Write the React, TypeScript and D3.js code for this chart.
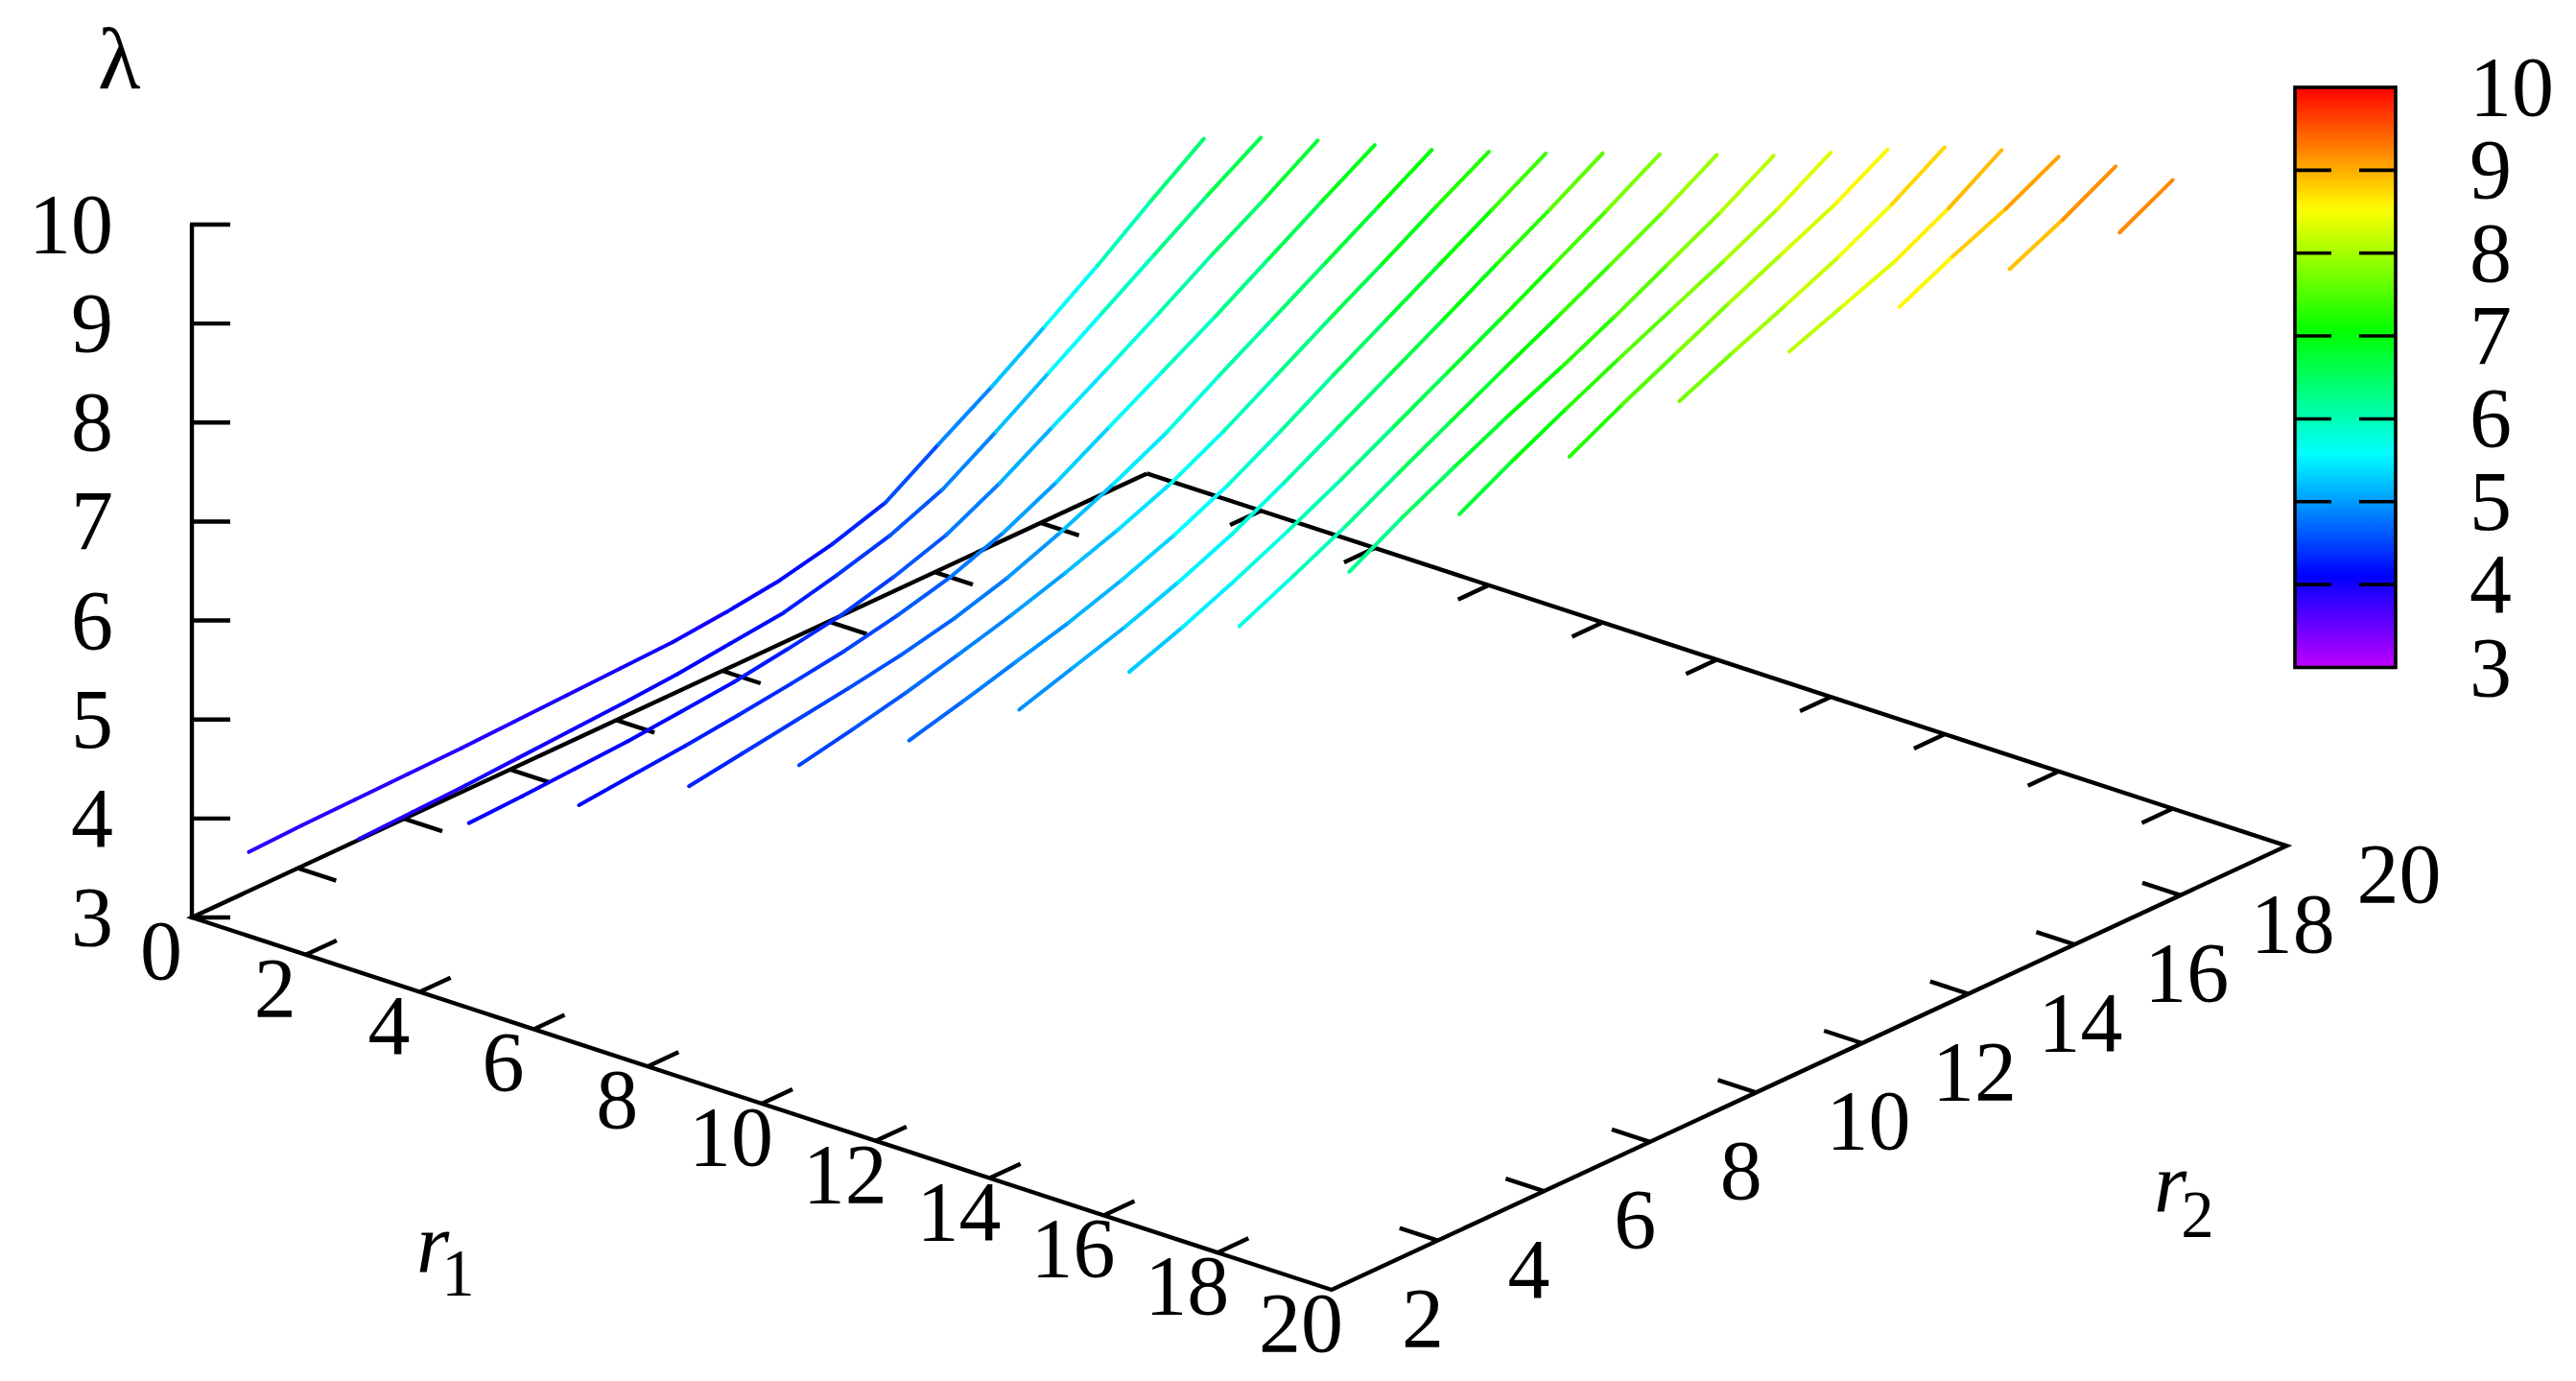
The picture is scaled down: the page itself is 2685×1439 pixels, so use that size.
import React from "react";
import * as d3 from "d3";

// lambda along r2 for each fixed r1; every list starts at r2 = r1 + 1 and ends at r2 = 20
const curveR1_01 = [3.85, 3.87, 3.88, 3.89, 3.9, 3.92, 3.94, 3.96, 3.98, 4.03, 4.1, 4.22, 4.39, 4.73, 5.06, 5.42, 5.79, 6.19, 6.57];
const curveR1_02 = [3.92, 3.94, 3.96, 3.99, 4.02, 4.05, 4.09, 4.15, 4.21, 4.34, 4.49, 4.71, 5.04, 5.39, 5.74, 6.09, 6.44, 6.77];
const curveR1_03 = [4.02, 4.04, 4.07, 4.1, 4.15, 4.2, 4.28, 4.37, 4.51, 4.69, 4.96, 5.28, 5.6, 5.93, 6.27, 6.59, 6.93];
const curveR1_04 = [4.14, 4.19, 4.24, 4.3, 4.37, 4.45, 4.56, 4.7, 4.9, 5.16, 5.47, 5.78, 6.09, 6.42, 6.75, 7.07];
const curveR1_05 = [4.27, 4.35, 4.43, 4.51, 4.6, 4.72, 4.88, 5.09, 5.33, 5.6, 5.93, 6.25, 6.57, 6.89, 7.21];
const curveR1_06 = [4.42, 4.53, 4.65, 4.79, 4.94, 5.11, 5.3, 5.52, 5.8, 6.12, 6.44, 6.75, 7.07, 7.38];
const curveR1_07 = [4.61, 4.75, 4.9, 5.05, 5.23, 5.44, 5.69, 5.99, 6.31, 6.62, 6.93, 7.24, 7.55];
const curveR1_08 = [4.86, 5.03, 5.2, 5.4, 5.63, 5.91, 6.21, 6.51, 6.81, 7.12, 7.42, 7.74];
const curveR1_09 = [5.18, 5.38, 5.61, 5.86, 6.13, 6.42, 6.71, 7.0, 7.3, 7.6, 7.92];
const curveR1_10 = [5.58, 5.83, 6.09, 6.38, 6.66, 6.94, 7.21, 7.49, 7.78, 8.1];
const curveR1_11 = [6.07, 6.37, 6.64, 6.9, 7.14, 7.4, 7.68, 7.96, 8.28];
const curveR1_12 = [6.59, 6.88, 7.15, 7.41, 7.66, 7.91, 8.18, 8.5];
const curveR1_13 = [7.11, 7.39, 7.65, 7.91, 8.16, 8.41, 8.72];
const curveR1_14 = [7.61, 7.85, 8.08, 8.32, 8.6, 8.93];
const curveR1_15 = [8.05, 8.26, 8.47, 8.75, 9.09];
const curveR1_16 = [8.44, 8.7, 8.93, 9.21];
const curveR1_17 = [8.76, 9.01, 9.3];
const curveR1_18 = [9.07, 9.35];
const curves = [curveR1_01, curveR1_02, curveR1_03, curveR1_04, curveR1_05, curveR1_06, curveR1_07, curveR1_08, curveR1_09,
  curveR1_10, curveR1_11, curveR1_12, curveR1_13, curveR1_14, curveR1_15, curveR1_16, curveR1_17, curveR1_18];

const r1Ticks = [0, 2, 4, 6, 8, 10, 12, 14, 16, 18, 20];
const r2Ticks = [2, 4, 6, 8, 10, 12, 14, 16, 18, 20];
const zTicks = [3, 4, 5, 6, 7, 8, 9, 10];

const FONT = "'Liberation Serif', 'Times New Roman', serif";
const FS = 88;

// Parallel projection: r1 and r2 shift the point on screen, lambda lifts it
const r1X = d3.scaleLinear().domain([0, 20]).range([0, 1188]);
const r1Y = d3.scaleLinear().domain([0, 20]).range([0, 388]);
const r2X = d3.scaleLinear().domain([2, 20]).range([0, 995.4]);
const r2Y = d3.scaleLinear().domain([2, 20]).range([0, -462.6]);
const zY = d3.scaleLinear().domain([3, 10]).range([0, -722]);
const ORIGIN = [200, 956];
const project = (r1: number, r2: number, z: number): [number, number] => [
  ORIGIN[0] + r1X(r1) + r2X(r2),
  ORIGIN[1] + r1Y(r1) + r2Y(r2) + zY(z),
];

const hue = d3.scaleLinear().domain([3, 10]).range([285, 0]);
const palette = (v: number) => d3.hsl(hue(v), 1, 0.5).formatHex();

const cbY = d3.scaleLinear().domain([3, 10]).range([695.5, 91]);
const CB_L = 2392;
const CB_R = 2497;
const line = d3.line();

export default function App() {
  const edge = (a: [number, number], b: [number, number]) => line([a, b]) as string;
  const stops = d3.range(3, 10.01, 0.1);
  return (
    <svg width={2685} height={1439} style={{ position: "absolute", left: 0, top: 0, display: "block", background: "#fff" }} fontFamily={FONT} fontSize={FS} fill="#000">
      <defs>
        <linearGradient id="cb" x1="0" y1="1" x2="0" y2="0">
          {stops.map((s) => (
            <stop key={s} offset={(s - 3) / 7} stopColor={palette(s)} />
          ))}
        </linearGradient>
      </defs>

      {/* base frame and z axis */}
      <g stroke="#000" strokeWidth={4.4} fill="none" strokeLinecap="butt">
        <path strokeLinejoin="miter" d={line([project(0, 20, 3), project(0, 2, 3), project(20, 2, 3), project(20, 20, 3), project(0, 20, 3)]) as string} />
        <path d={edge(project(0, 2, 3), project(0, 2, 10))} />
        {zTicks.map((z) => {
          const [x, y] = project(0, 2, z);
          return <path key={z} d={edge([x - 2, y], [x + 40, y])} />;
        })}
        {r1Ticks.slice(1, -1).map((t) => (
          <g key={t}>
            <path d={edge(project(t, 2, 3), project(t, 2.58, 3))} />
            <path d={edge(project(t, 20, 3), project(t, 19.42, 3))} />
          </g>
        ))}
        {r2Ticks.slice(1, -1).map((t) => (
          <g key={t}>
            <path d={edge(project(20, t, 3), project(19.33, t, 3))} />
            <path d={edge(project(0, t, 3), project(0.67, t, 3))} />
          </g>
        ))}
      </g>

      {/* lambda lines: each segment carries one palette colour */}
      <g fill="none" strokeWidth={4} strokeLinecap="round">
        {curves.map((vals, i) => {
          const r1 = i + 1;
          return vals.slice(1).map((v, j) => {
            const a = vals[j];
            const r2 = r1 + 1 + j;
            return <path key={`${r1}-${r2}`} stroke={palette((a + v) / 2)} d={edge(project(r1, r2, a), project(r1, r2 + 1, v))} />;
          });
        })}
      </g>

      {/* tick labels */}
      {zTicks.map((z) => (
        <text key={z} x={118} y={project(0, 2, z)[1] + 29} textAnchor="end">{z}</text>
      ))}
      {r1Ticks.map((t) => {
        const [x, y] = project(t, 2, 3);
        return <text key={t} x={x - 32} y={y + 64} textAnchor="middle">{t}</text>;
      })}
      {r2Ticks.map((t) => {
        const [x, y] = project(20, t, 3);
        return <text key={t} x={x + 73} y={y + 59}>{t}</text>;
      })}

      {/* axis titles */}
      <text x={102} y={92} fontSize={92}>λ</text>
      <text x={434} y={1325} fontStyle="italic">
        r<tspan dx={-8} dy={25} fontSize={69} fontStyle="normal">1</tspan>
      </text>
      <text x={2245} y={1262} fontStyle="italic">
        r<tspan dx={-6} dy={27} fontSize={69} fontStyle="normal">2</tspan>
      </text>

      {/* colour box */}
      <rect x={CB_L} y={cbY(10)} width={CB_R - CB_L} height={cbY(3) - cbY(10)} fill="url(#cb)" stroke="#000" strokeWidth={3.6} />
      <g stroke="#000" strokeWidth={3.6} fill="none">
        {zTicks.slice(1, -1).map((z) => (
          <g key={z}>
            <path d={edge([CB_L, cbY(z)], [CB_L + 38, cbY(z)])} />
            <path d={edge([CB_R - 38, cbY(z)], [CB_R, cbY(z)])} />
          </g>
        ))}
      </g>
      {zTicks.map((z) => (
        <text key={z} x={2574} y={cbY(z) + 29}>{z}</text>
      ))}
    </svg>
  );
}
